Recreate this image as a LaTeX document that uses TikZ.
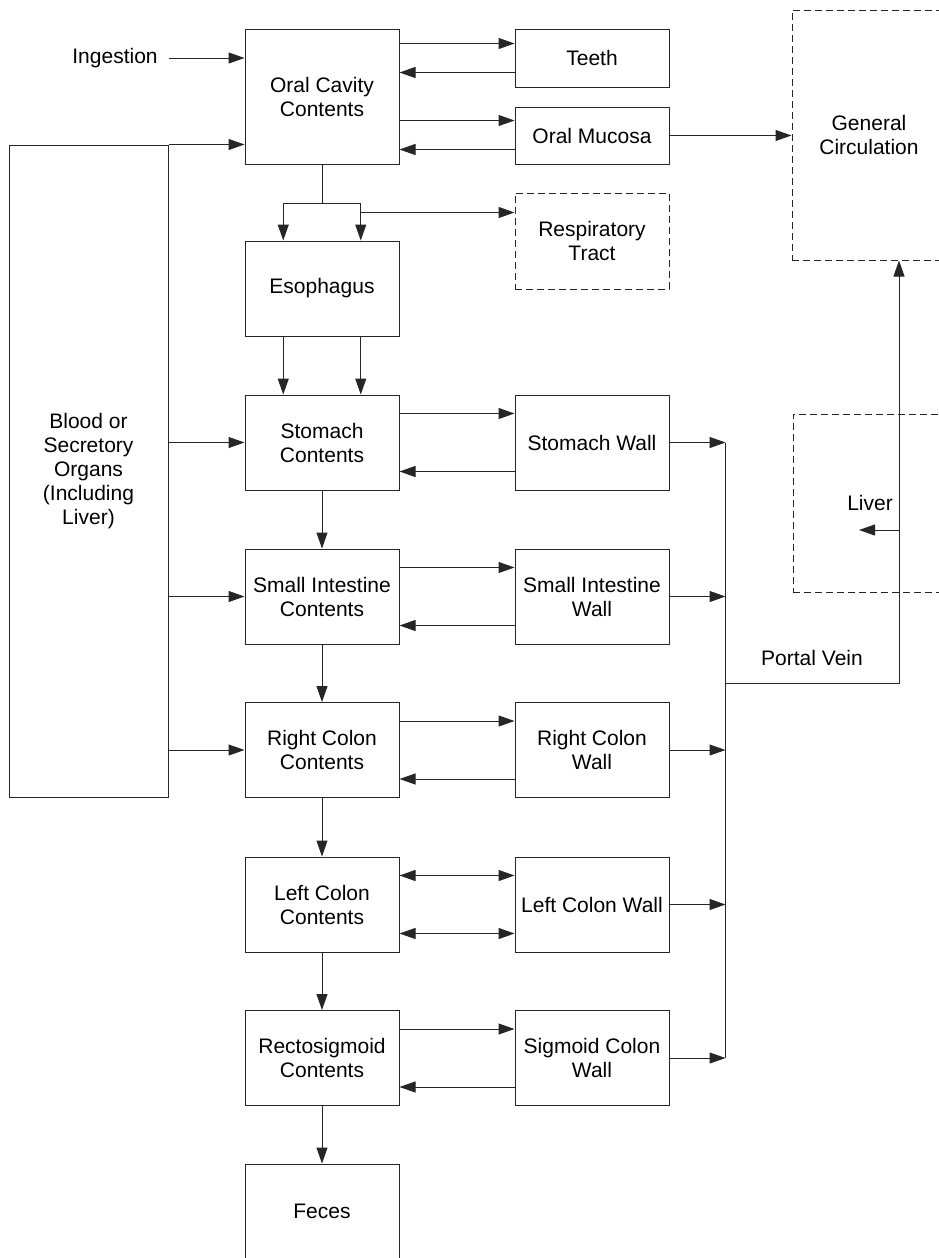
\documentclass[tikz,border=0pt]{standalone}
\usepackage{fontspec}
\setmainfont{Liberation Sans}
\usetikzlibrary{arrows.meta,calc}
\begin{document}
\begin{tikzpicture}[x=1pt,y=-1pt, font=\fontsize{21}{24}\selectfont,
 box/.style={draw=black!85, line width=1pt, inner sep=0pt, minimum width=154pt, minimum height=95pt, align=center},
 dbox/.style={box, dash pattern=on 7pt off 4pt},
 arr/.style={draw=black!85, line width=1pt, -{Triangle[length=16pt,width=11pt]}},
 darr/.style={draw=black!85, line width=1pt, {Triangle[length=16pt,width=11pt]}-{Triangle[length=16pt,width=11pt]}},
 conn/.style={draw=black!85, line width=1pt}]
\useasboundingbox (0,0) rectangle (938,1258);
% nodes
\node[box, minimum height=135pt] (oral) at (322,96.5) {Oral Cavity\\Contents};
\node[box, minimum height=58pt] (teeth) at (592,58) {Teeth};
\node[box, minimum height=57pt] (mucosa) at (592,135.5) {Oral Mucosa};
\node[dbox, minimum height=96pt] (resp) at (592,241) {Respiratory\\Tract};
\node[dbox, minimum height=250pt] (gen) at (869,135) {General\\Circulation};
\node[box] (eso) at (322,288.5) {Esophagus};
\node[box] (stc) at (322,442.5) {Stomach\\Contents};
\node[box] (stw) at (592,442.5) {Stomach Wall};
\node[box] (sic) at (322,596.5) {Small Intestine\\Contents};
\node[box] (siw) at (592,596.5) {Small Intestine\\Wall};
\node[box] (rcc) at (322,750) {Right Colon\\Contents};
\node[box] (rcw) at (592,750) {Right Colon\\Wall};
\node[box] (lcc) at (322,904.5) {Left Colon\\Contents};
\node[box] (lcw) at (592,904.5) {Left Colon Wall};
\node[box] (rsc) at (322,1058) {Rectosigmoid\\Contents};
\node[box] (scw) at (592,1058) {Sigmoid Colon\\Wall};
\node[box] (fec) at (322,1211.5) {Feces};
\node[dbox, minimum height=178pt] (liver) at (870,503) {Liver};
\node[box, minimum width=159pt, minimum height=652pt] (blood) at (88.5,471) {Blood or\\Secretory\\Organs\\(Including\\Liver)};
\node[inner sep=0pt] (ing) at (115,58) {Ingestion};
\node[inner sep=0pt] (pvl) at (812,658) {Portal Vein};
% ingestion and blood inputs
\draw[arr] ([xshift=11pt]ing.east) -- (ing.east -| oral.west);
\draw[arr] (blood.north east) -- (blood.north east -| oral.west);
\foreach \c in {stc,sic,rcc} \draw[arr] (blood.east |- \c.west) -- (\c.west);
% oral cavity exchanges
\coordinate (t1) at ($(teeth.north west)+(0,15)$);
\coordinate (t2) at ($(teeth.north west)+(0,44)$);
\coordinate (m1) at ($(mucosa.north west)+(0,14)$);
\coordinate (m2) at ($(mucosa.north west)+(0,43)$);
\draw[arr] (oral.east |- t1) -- (t1);
\draw[arr] (t2) -- (oral.east |- t2);
\draw[arr] (oral.east |- m1) -- (m1);
\draw[arr] (m2) -- (oral.east |- m2);
\draw[arr] (mucosa.east) -- (mucosa.east -| gen.west);
% oral cavity to esophagus and respiratory tract
\coordinate (split) at ($(oral.south)+(0,39)$);
\coordinate (eL) at ($(eso.north west)!0.25!(eso.north east)$);
\coordinate (eR) at ($(eso.north west)!0.75!(eso.north east)$);
\draw[conn] (oral.south) -- (split);
\draw[conn] (eL |- split) -- (eR |- split);
\draw[arr] (eL |- split) -- (eL);
\draw[arr] (eR |- split) -- (eR);
\coordinate (rb) at ($(eR |- split)+(0,9)$);
\draw[arr] (rb) -- (rb -| resp.west);
% esophagus to stomach
\coordinate (sL) at ($(stc.north west)!0.25!(stc.north east)$);
\coordinate (sR) at ($(stc.north west)!0.75!(stc.north east)$);
\draw[arr] (sL |- eso.south) -- (sL);
\draw[arr] (sR |- eso.south) -- (sR);
% downward flow
\draw[arr] (stc.south) -- (sic.north);
\draw[arr] (sic.south) -- (rcc.north);
\draw[arr] (rcc.south) -- (lcc.north);
\draw[arr] (lcc.south) -- (rsc.north);
\draw[arr] (rsc.south) -- (fec.north);
% contents <-> walls
\foreach \c/\w in {stc/stw, sic/siw, rcc/rcw, rsc/scw} {
  \draw[arr] ($(\c.north east)+(0,19)$) -- ($(\w.north west)+(0,19)$);
  \draw[arr] ($(\w.south west)+(0,-19)$) -- ($(\c.south east)+(0,-19)$);
}
\draw[darr] ($(lcc.north east)+(0,19)$) -- ($(lcw.north west)+(0,19)$);
\draw[darr] ($(lcc.south east)+(0,-19)$) -- ($(lcw.south west)+(0,-19)$);
% portal vein
\coordinate (pvtop) at ($(stw.east)+(56,0)$);
\coordinate (pvbot) at (pvtop |- scw.east);
\draw[conn] (pvtop) -- (pvbot);
\foreach \w in {stw,siw,rcw,lcw,scw} \draw[arr] (\w.east) -- (\w.east -| pvtop);
\coordinate (pvj) at (725,683);
\coordinate (pvk) at (899,683);
\draw[arr] (pvj) -- (pvk) -- (pvk |- gen.south);
\coordinate (lvs) at (899,530);
\coordinate (lvt) at (859,530);
\draw[arr] (lvs) -- (lvt);
\end{tikzpicture}
\end{document}
